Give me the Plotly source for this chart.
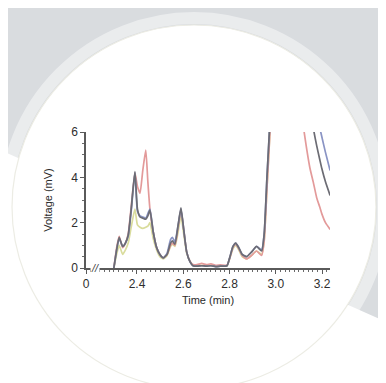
import plotly.graph_objects as go

# ---- data ----
time_min = [2.300, 2.312, 2.323, 2.338, 2.350, 2.362, 2.375, 2.391, 2.402, 2.413,
            2.425, 2.438, 2.447, 2.456, 2.470, 2.485, 2.499, 2.514, 2.530, 2.545,
            2.553, 2.564, 2.578, 2.590, 2.602, 2.615, 2.629, 2.642, 2.660, 2.680,
            2.700, 2.720, 2.740, 2.760, 2.789, 2.802, 2.815, 2.827, 2.840, 2.855,
            2.874, 2.895, 2.917, 2.939, 2.950, 2.962, 2.975, 2.990, 3.020, 3.050,
            3.080, 3.100, 3.120, 3.148, 3.162, 3.177, 3.190, 3.199, 3.215, 3.235]

series_gray = [0.0, 0.8, 1.35, 0.95, 1.1, 1.45, 2.6, 4.25, 2.6, 2.25,
               2.2, 2.15, 2.3, 2.55, 1.6, 0.9, 0.6, 0.45, 0.6, 1.1,
               1.2, 1.05, 1.9, 2.65, 1.7, 0.7, 0.28, 0.1, 0.08, 0.1,
               0.08, 0.1, 0.06, 0.08, 0.1, 0.5, 0.95, 1.1, 0.9, 0.6,
               0.5, 0.7, 0.95, 0.75, 1.5, 4.0, 6.5, 10.0, 15.0, 16.0,
               13.5, 11.0, 9.0, 7.2, 6.2, 5.4, 4.8, 4.4, 3.8, 3.2]

series_blue = [0.0, 0.8, 1.3, 0.95, 1.1, 1.4, 2.5, 4.2, 2.5, 2.3,
               2.25, 2.2, 2.4, 2.6, 1.6, 0.9, 0.6, 0.45, 0.65, 1.25,
               1.35, 1.15, 1.9, 2.6, 1.7, 0.7, 0.28, 0.1, 0.08, 0.1,
               0.08, 0.1, 0.06, 0.08, 0.1, 0.5, 0.95, 1.1, 0.9, 0.6,
               0.5, 0.7, 0.95, 0.8, 1.5, 4.0, 6.5, 10.0, 15.0, 17.0,
               15.0, 12.5, 10.5, 8.6, 7.6, 6.8, 6.2, 5.8, 5.1, 4.3]

series_red = [0.0, 0.9, 1.4, 0.9, 1.1, 1.5, 2.7, 4.2, 3.6, 3.3,
              4.3, 5.2, 3.8, 2.6, 1.6, 0.9, 0.6, 0.45, 0.6, 1.0,
              1.1, 1.0, 1.8, 2.55, 1.7, 0.7, 0.3, 0.15, 0.15, 0.2,
              0.15, 0.18, 0.12, 0.14, 0.12, 0.45, 0.9, 1.05, 0.85, 0.55,
              0.4, 0.55, 0.75, 0.55, 1.2, 3.5, 6.0, 9.5, 14.0, 14.5,
              10.5, 7.8, 6.2, 4.4, 3.8, 3.1, 2.7, 2.4, 2.0, 1.7]

series_yellow = [0.0, 0.6, 1.0, 0.6, 0.8, 1.1, 1.8, 2.6, 1.9, 1.8,
                 1.75, 1.8, 1.85, 2.0, 1.3, 0.8, 0.5, 0.4, 0.55, 0.95,
                 1.05, 0.95, 1.6, 2.3, 1.5, 0.65, 0.3, 0.12, 0.1, 0.12,
                 0.1, 0.12, 0.08, 0.1, 0.1, 0.45, 0.85, 1.0, 0.8, 0.5,
                 0.4, 0.55, 0.75, 0.6, 1.2, 3.5, 6.0, 9.5, 15.0, 17.0,
                 15.0, 13.0, 11.0, 9.5, 8.8, 8.0, 7.5, 7.2, 6.7, 6.2]

x_tick_vals = [2.1795, 2.4, 2.6, 2.8, 3.0, 3.2]
x_tick_text = ["0", "2.4", "2.6", "2.8", "3.0", "3.2"]
y_tick_vals = [0, 2, 4, 6]

# ---- figure geometry (page has an 8px body margin) ----
OFF = 8
W, H = 386 - OFF, 383 - OFF
ML, MR, MT, MB = 78, 56, 124, 115
PW, PH = W - ML - MR, H - MT - MB


def fx(px):
    return (px - OFF - ML) / PW


def fy(py):
    return (OFF + H - MB - py) / PH


fig = go.Figure()

trace_specs = [
    ("Yellow", series_yellow, "#d9dc9c"),
    ("Red", series_red, "#e39a9a"),
    ("Blue", series_blue, "#8a94c4"),
    ("Gray", series_gray, "#6c6c74"),
]
for name, vals, col in trace_specs:
    fig.add_trace(go.Scatter(
        x=time_min, y=vals, mode="lines", name=name,
        line=dict(color=col, width=1.7, shape="spline", smoothing=0.5),
        showlegend=False, hoverinfo="skip",
    ))

# background decoration
cx, cy, r = 194, 207, 182
shapes = [
    dict(type="path", xref="paper", yref="paper", layer="below",
         path=f"M {fx(-20)},{fy(-20)} L {fx(400)},{fy(-20)} L {fx(400)},{fy(328)} L {fx(-20)},{fy(141)} Z",
         fillcolor="#d9dcdf", line=dict(width=0)),
    dict(type="circle", xref="paper", yref="paper", layer="below",
         x0=fx(cx - r - 7), x1=fx(cx + r + 7), y0=fy(cy + r + 7), y1=fy(cy - r - 7),
         fillcolor="rgba(0,0,0,0)", line=dict(color="rgba(255,255,255,0.45)", width=12)),
    dict(type="circle", xref="paper", yref="paper", layer="below",
         x0=fx(cx - r), x1=fx(cx + r), y0=fy(cy + r), y1=fy(cy - r),
         fillcolor="#ffffff", line=dict(color="#ecece4", width=1.2)),
]

FONT = "Liberation Sans, Arial, sans-serif"
axis_font = dict(family=FONT, size=12, color="#2e2e2e")

fig.update_layout(
    width=W, height=H,
    margin=dict(l=ML, r=MR, t=MT, b=MB, autoexpand=False),
    paper_bgcolor="#ffffff",
    plot_bgcolor="rgba(0,0,0,0)",
    shapes=shapes,
    xaxis=dict(
        range=[2.1795, 3.2346], showgrid=False, zeroline=False, automargin=False,
        showline=True, linecolor="#5a5a5a", linewidth=1.5,
        ticks="outside", ticklen=4, tickwidth=1.2, tickcolor="#5a5a5a",
        tickmode="array", tickvals=x_tick_vals, ticktext=x_tick_text,
        tickfont=axis_font,
        minor=dict(ticks="outside", ticklen=2, tickwidth=1, tickcolor="#6a6a6a",
                   tick0=2.2, dtick=0.02),
        title=dict(text="Time (min)", font=dict(family=FONT, size=11, color="#2a2a2a"),
                   standoff=6),
    ),
    yaxis=dict(
        range=[0, 6], showgrid=False, zeroline=False, automargin=False,
        showline=True, linecolor="#5a5a5a", linewidth=1.5,
        ticks="outside", ticklen=4, tickwidth=1.2, tickcolor="#5a5a5a",
        tickmode="array", tickvals=y_tick_vals,
        tickfont=axis_font,
        minor=dict(ticks="outside", ticklen=2, tickwidth=1, tickcolor="#6a6a6a",
                   tick0=0, dtick=0.5),
        title=dict(text="Voltage (mV)", font=dict(family=FONT, size=11, color="#2a2a2a"),
                   standoff=16),
    ),
    annotations=[dict(x=2.219, y=0, xref="x", yref="y", text="<i>//</i>",
                      showarrow=False, font=dict(family=FONT, size=11, color="#444444"),
                      bgcolor="#ffffff", borderpad=0)],
)

fig.write_html("out.html")
